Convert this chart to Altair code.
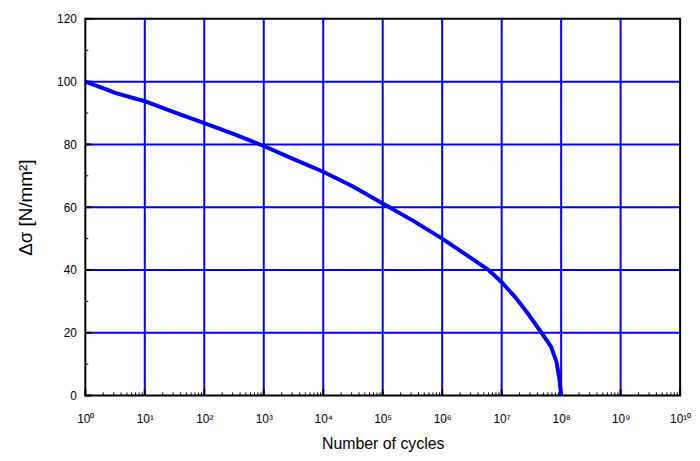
import altair as alt
import pandas as pd

# S-N curve: log10(cycles) and stress range
log_cycles = [0, 0.33, 0.5, 1, 1.5, 2, 2.5, 3, 3.5, 4, 4.5, 5, 5.5, 6, 6.5,
              6.78, 7, 7.23, 7.45, 7.67, 7.83, 7.92, 7.97, 8]
stress = [100, 97.7, 96.4, 93.75, 90.2, 86.75, 83.3, 79.5, 75.3, 71.3, 66.6,
          61.2, 55.8, 50.0, 43.6, 40, 36.1, 31.3, 25.9, 20, 15.6, 10.8, 5.5, 0]

x_major = [10 ** k for k in range(0, 11)]
x_minor = [m * 10 ** k for k in range(0, 10) for m in range(2, 10)]
y_major = [0, 20, 40, 60, 80, 100, 120]
y_minor = [10, 30, 50, 70, 90, 110]

FONT = "Liberation Sans"
BLUE = "#0000FF"

curve_df = pd.DataFrame({"N": [10 ** e for e in log_cycles], "S": stress})

xscale = alt.Scale(type="log", domain=[1, 1e10], nice=False)
yscale = alt.Scale(domain=[0, 120], nice=False, zero=False)

sup_expr = ("'10' + (round(log(datum.value)/LN10) >= 10 ? '\u00b9\u2070' : "
            "substring('\u2070\u00b9\u00b2\u00b3\u2074\u2075\u2076\u2077\u2078\u2079', "
            "round(log(datum.value)/LN10), round(log(datum.value)/LN10)+1))")

xaxis = alt.Axis(values=x_major, labelExpr=sup_expr, title="Number of cycles",
                 grid=False, ticks=False, domain=False,
                 labelFont=FONT, labelFontSize=12,
                 labelColor="black", labelPadding=18, labelFlush=False,
                 labelOverlap=False, labelBound=False,
                 titleFont=FONT, titleFontSize=16, titleFontWeight="normal",
                 titleColor="black", titlePadding=11)
yaxis = alt.Axis(values=y_major, title="\u0394\u03c3 [N/mm\u00b2]",
                 grid=False, ticks=False, domain=False,
                 labelFont=FONT, labelFontSize=12,
                 labelColor="black", labelPadding=9,
                 titleFont=FONT, titleFontSize=19, titleFontWeight="normal",
                 titleColor="black", titlePadding=15, minExtent=35, maxExtent=35)

# inner grid lines (edges are drawn by the black frame)
xgrid_df = pd.DataFrame({"N": x_major[1:-1]})
ygrid_df = pd.DataFrame({"S": y_major[1:-1]})

xgrid = alt.Chart(xgrid_df).mark_rule(color=BLUE, strokeWidth=2).encode(
    x=alt.X("N:Q", scale=xscale, axis=xaxis))
ygrid = alt.Chart(ygrid_df).mark_rule(color=BLUE, strokeWidth=2).encode(
    y=alt.Y("S:Q", scale=yscale, axis=yaxis))

xmaj_df = pd.DataFrame({"N": x_major})
xmin_df = pd.DataFrame({"N": x_minor})
ymaj_df = pd.DataFrame({"S": y_major})
ymin_df = pd.DataFrame({"S": y_minor})

xmaj_ticks = alt.Chart(xmaj_df).mark_rule(color="black", strokeWidth=2).encode(
    x=alt.X("N:Q", scale=xscale), y=alt.datum(0), y2=alt.datum(2))
xmin_ticks = alt.Chart(xmin_df).mark_rule(color="black", strokeWidth=1).encode(
    x=alt.X("N:Q", scale=xscale), y=alt.datum(0), y2=alt.datum(1))
ymaj_ticks = alt.Chart(ymaj_df).mark_rule(color="black", strokeWidth=2).encode(
    y=alt.Y("S:Q", scale=yscale), x=alt.datum(1), x2=alt.datum(10 ** 0.1))
ymin_ticks = alt.Chart(ymin_df).mark_rule(color="black", strokeWidth=1).encode(
    y=alt.Y("S:Q", scale=yscale), x=alt.datum(1), x2=alt.datum(10 ** 0.05))

curve = alt.Chart(curve_df).mark_line(color=BLUE, strokeWidth=4).encode(
    x=alt.X("N:Q", scale=xscale),
    y=alt.Y("S:Q", scale=yscale),
    order=alt.Order("N:Q"),
)

chart = alt.layer(xgrid, ygrid, xmaj_ticks, xmin_ticks, ymaj_ticks, ymin_ticks, curve).properties(
    width=600, height=380,
    background="white",
    autosize=alt.AutoSizeParams(type="none"),
    padding={"left": 78, "top": 9, "right": 12, "bottom": 55},
).configure_view(stroke="black", strokeWidth=2)

chart.save("out.html", embed_options={"renderer": "svg", "actions": False})
